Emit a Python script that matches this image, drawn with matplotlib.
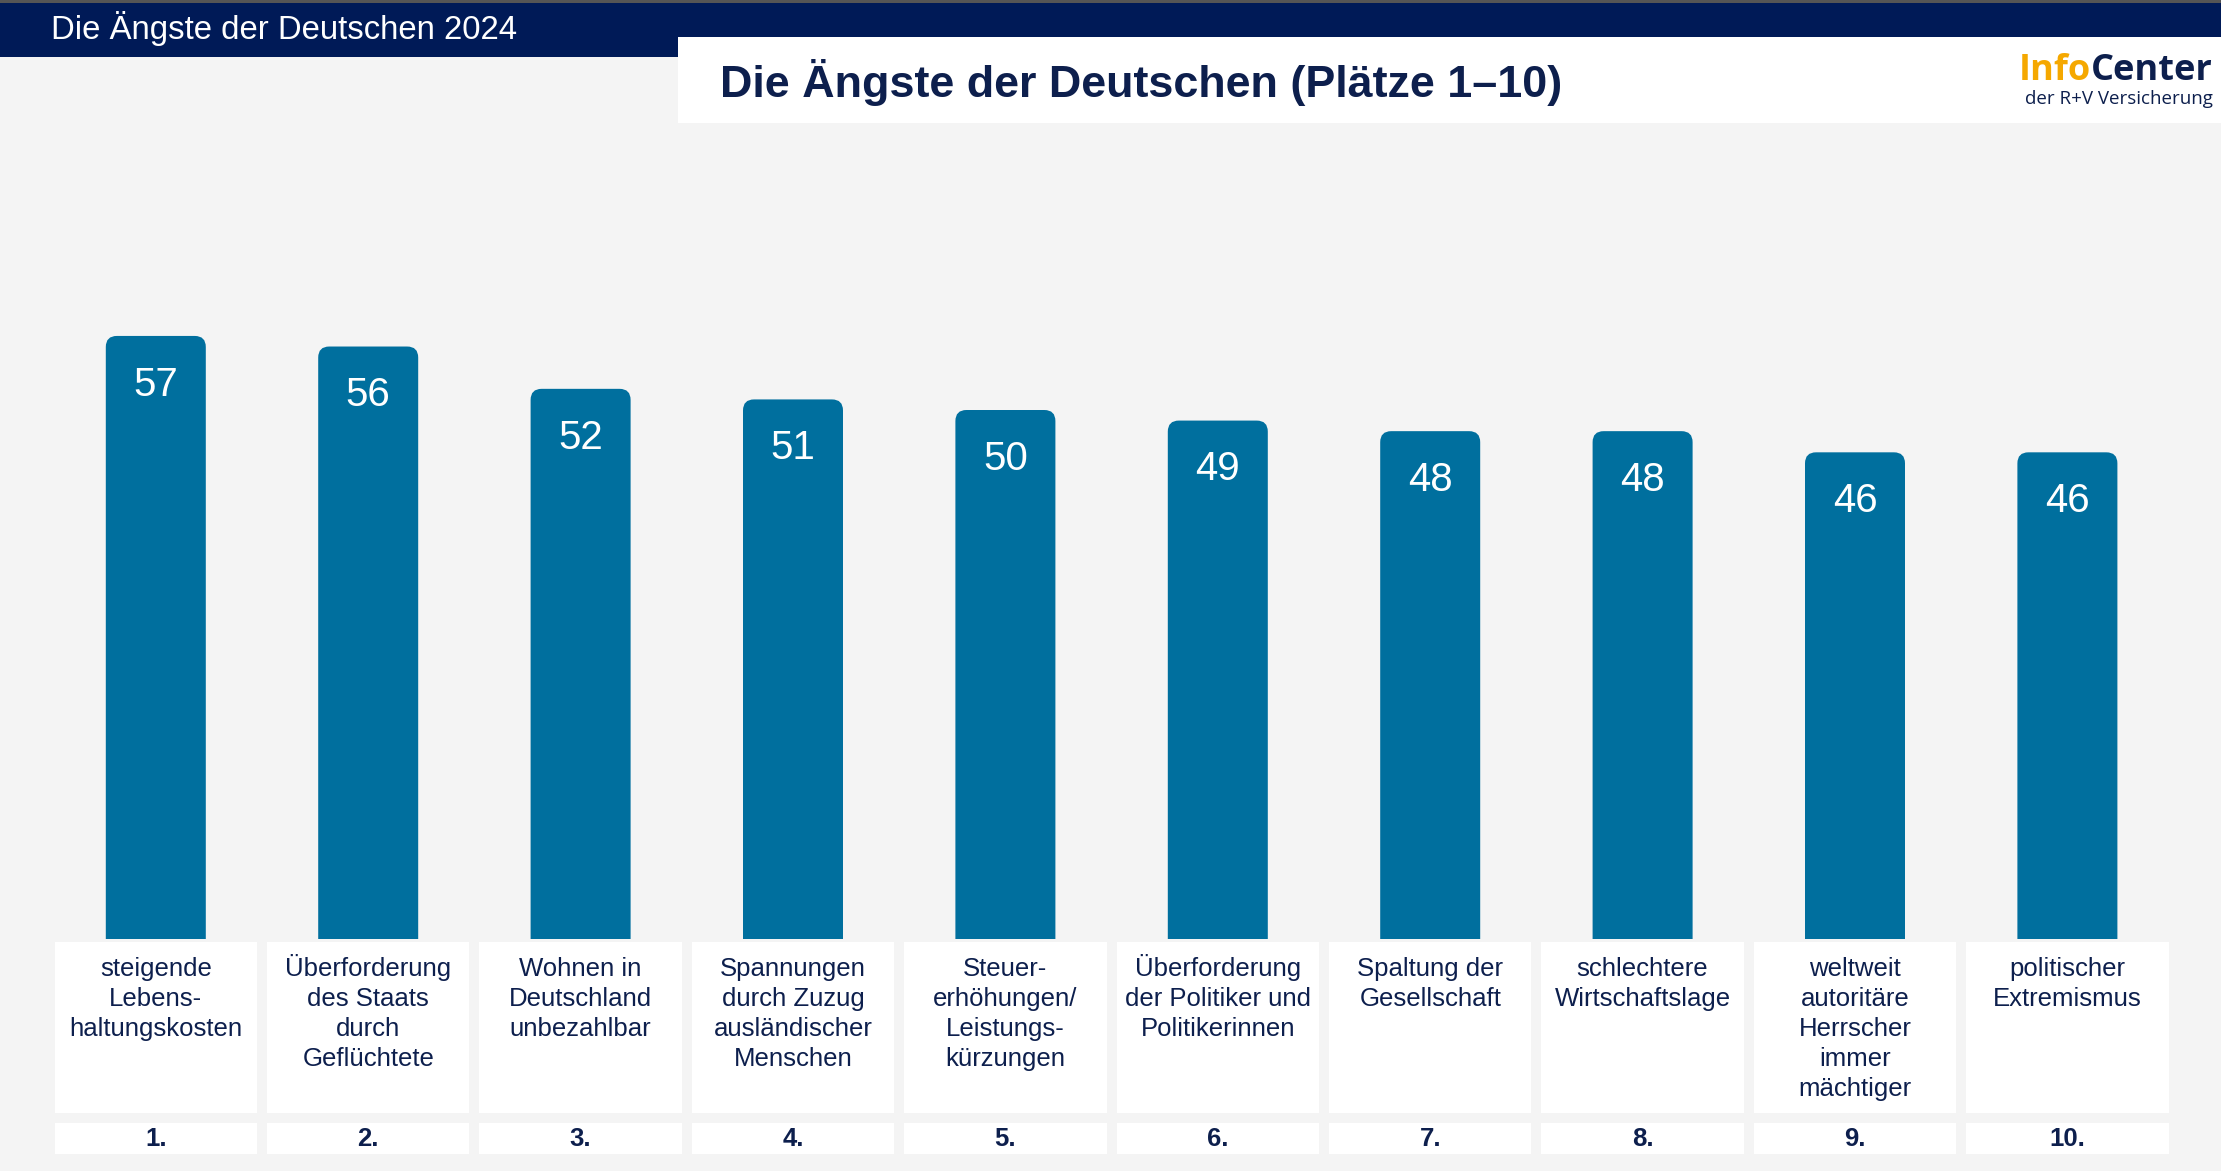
import matplotlib.pyplot as plt
from matplotlib.patches import FancyBboxPatch, Rectangle

# Daten
ranks = ["1.", "2.", "3.", "4.", "5.", "6.", "7.", "8.", "9.", "10."]
categories = [
    "steigende\nLebens-\nhaltungskosten",
    "Überforderung\ndes Staats\ndurch\nGeflüchtete",
    "Wohnen in\nDeutschland\nunbezahlbar",
    "Spannungen\ndurch Zuzug\nausländischer\nMenschen",
    "Steuer-\nerhöhungen/\nLeistungs-\nkürzungen",
    "Überforderung\nder Politiker und\nPolitikerinnen",
    "Spaltung der\nGesellschaft",
    "schlechtere\nWirtschaftslage",
    "weltweit\nautoritäre\nHerrscher\nimmer\nmächtiger",
    "politischer\nExtremismus",
]
values = [57, 56, 52, 51, 50, 49, 48, 48, 46, 46]

BG = "#f4f4f4"
NAVY = "#0d1f4d"
BAND = "#001a57"
BAR = "#006f9e"
ORANGE = "#f5a800"

W, H = 2221, 1171
plt.rcParams['font.family'] = ['Liberation Sans', 'DejaVu Sans']

fig = plt.figure(figsize=(W / 100, H / 100), dpi=100, facecolor=BG)

# Kopfbereich in Pixelkoordinaten
hd = fig.add_axes([0, 0, 1, 1])
hd.set_xlim(0, W)
hd.set_ylim(H, 0)
hd.axis('off')
hd.add_patch(Rectangle((0, 0), W, 37, color=BAND, lw=0))
hd.add_patch(Rectangle((0, 0), 678, 57, color=BAND, lw=0))
hd.add_patch(Rectangle((0, 0), W, 3, color="#555555", lw=0))
hd.add_patch(Rectangle((678, 37), W - 678, 86, color="white", lw=0))
hd.text(51, 29, "Die Ängste der Deutschen 2024", color="white", fontsize=23.7,
        va='center', ha='left')
hd.text(720, 82, "Die Ängste der Deutschen (Plätze 1–10)", color=NAVY,
        fontsize=32.3, fontweight='bold', va='center', ha='left')

# Logo
center = hd.text(2213, 89, "Center", color=NAVY, fontsize=26, fontweight='bold',
                 family=['Open Sans', 'DejaVu Sans'], ha='right', va='bottom')
hd.annotate("Info", xy=(0, 0), xycoords=center, color=ORANGE, fontsize=26,
            fontweight='bold', family=['Open Sans', 'DejaVu Sans'],
            ha='right', va='bottom')
hd.text(2213, 99, "der R+V Versicherung", color=NAVY, fontsize=13.5,
        family=['Open Sans', 'DejaVu Sans'], ha='right', va='center')

# Balken
x0 = 155.8          # Mitte erster Balken in px
step = 212.4        # Abstand in px
base = 939          # Balkenbasis in px von oben
ppu = 10.58         # px pro Prozentpunkt
ax = fig.add_axes([0, (H - base) / H, 1, base / H])
ax.set_xlim(-x0 / step, (W - x0) / step)
ax.set_ylim(0, base / ppu)
ax.axis('off')
ax.patch.set_alpha(0)

xs = list(range(len(values)))
bw = 100 / step
bars = ax.bar(xs, values, width=bw, color=BAR)
r = 11 / step
for b, v in zip(bars, values):
    # Balken mit abgerundeten oberen Ecken; untere Ecken liegen unter der Achse
    b.set_visible(False)
    ax.add_patch(FancyBboxPatch((b.get_x(), -3), b.get_width(), b.get_height() + 3,
                                boxstyle=f"round,pad=0,rounding_size={r}",
                                mutation_aspect=step / ppu,
                                color=BAR, lw=0, zorder=2))
    ax.text(b.get_x() + b.get_width() / 2, v - 4.6, str(v), color="white",
            fontsize=29, ha='center', va='center', zorder=3)

# Beschriftungsfelder
boxw = 0.953
for x, cat, rk in zip(xs, categories, ranks):
    ax.add_patch(Rectangle((x - boxw / 2, -16.4), boxw, 16.1, color="white",
                           lw=0, clip_on=False))
    ax.add_patch(Rectangle((x - boxw / 2, -20.3), boxw, 2.95, color="white",
                           lw=0, clip_on=False))
    # Umlaut-Versalien machen die Textbox höher -> etwas nach oben schieben
    ytop = -1.7 + (0.27 if cat.startswith("Ü") else 0)
    ax.text(x, ytop, cat, color=NAVY, fontsize=18.5, ha='center', va='top',
            linespacing=1.31, clip_on=False)
    ax.text(x, -18.9, rk, color=NAVY, fontsize=18.5, fontweight='bold',
            ha='center', va='center', clip_on=False)

fig.savefig("out.png", dpi=100, facecolor=BG)
